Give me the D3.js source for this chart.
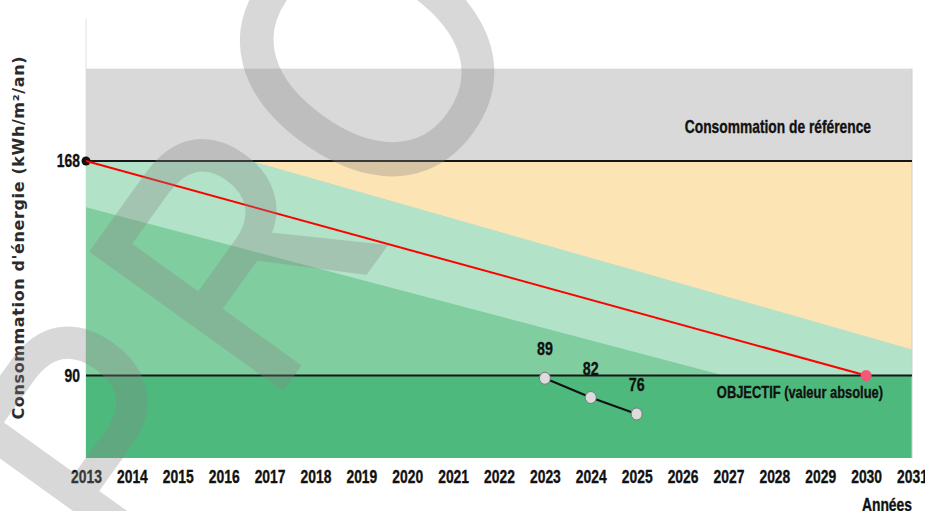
<!DOCTYPE html>
<html>
<head>
<meta charset="utf-8">
<script src="https://cdn.jsdelivr.net/npm/d3@7"></script>
<style>
  body { margin: 0; background: #fff; }
  svg { display: block; }
  .narrow { font-family: "Liberation Sans", Arial, sans-serif; font-weight: bold; fill: #111; stroke: #111; stroke-width: 0.35px; }
</style>
</head>
<body>
<div id="chart"></div>
<script>
// axis ticks
var tickYears = [2013, 2014, 2015, 2016, 2017, 2018, 2019, 2020, 2021, 2022,
                 2023, 2024, 2025, 2026, 2027, 2028, 2029, 2030, 2031];
var tickValues = [90, 168];

// reference levels
var refValue = 168;
var refTop = 201.6;
var targetValue = 90;
var floorValue = 60;

// trajectory from reference to objective
var trajYears = [2013, 2030];
var trajValues = [168, 90];

// tolerance bands (light and medium green)
var upperBandYears = [2013, 2016.6, 2031];
var upperBandValues = [168, 168, 99.5];
var lowerBandYears = [2013, 2026.9];
var lowerBandValues = [151.2, 90];

// measured consumption
var measuredYears = [2023, 2024, 2025];
var measuredValues = [89, 82, 76];

var svgWidth = 925;
var svgHeight = 511;
var squeeze = 0.75; // no narrow font installed, so squeeze Liberation Sans

var svg = d3.select("#chart")
  .append("svg")
  .attr("width", svgWidth)
  .attr("height", svgHeight);

var x = d3.scaleLinear().domain([2013, 2031]).range([86, 912]);
var y = d3.scaleLinear().domain([floorValue, refValue]).range([458, 161]);

var plot = svg.append("g");

// narrow bold label
function narrowText(g, tx, ty, txt, size, anchor) {
  return g.append("text")
    .attr("class", "narrow")
    .attr("transform", `translate(${tx}, ${ty}) scale(${squeeze}, 1)`)
    .attr("text-anchor", anchor)
    .attr("font-size", size)
    .text(txt);
}

// axis line on the left
plot.append("line")
  .attr("x1", x(2013)).attr("x2", x(2013))
  .attr("y1", 19).attr("y2", y(floorValue))
  .attr("stroke", "#e2e2e2").attr("stroke-width", 1);

// background bands
plot.append("rect")
  .attr("x", x(2013)).attr("width", x(2031) - x(2013))
  .attr("y", y(refTop)).attr("height", y(refValue) - y(refTop))
  .attr("fill", "#d9d9d9");

plot.append("rect")
  .attr("x", x(2013)).attr("width", x(2031) - x(2013))
  .attr("y", y(refValue)).attr("height", y(targetValue) - y(refValue))
  .attr("fill", "#fce4b4");

var band = d3.area()
  .x(d => x(d[0]))
  .y0(y(targetValue))
  .y1(d => y(d[1]));

plot.append("path")
  .datum(d3.zip(upperBandYears, upperBandValues))
  .attr("d", band)
  .attr("fill", "#b2e2c8");

plot.append("path")
  .datum(d3.zip(lowerBandYears, lowerBandValues))
  .attr("d", band)
  .attr("fill", "#80cea0");

plot.append("rect")
  .attr("x", x(2013)).attr("width", x(2031) - x(2013))
  .attr("y", y(targetValue)).attr("height", y(floorValue) - y(targetValue))
  .attr("fill", "#4eb97c");

// right border
plot.append("line")
  .attr("x1", x(2031)).attr("x2", x(2031))
  .attr("y1", y(refTop)).attr("y2", y(floorValue))
  .attr("stroke", "#cfcfcf").attr("stroke-width", 1);

// reference and objective lines
plot.selectAll(".hline")
  .data([refValue, targetValue])
  .enter()
  .append("line")
  .attr("x1", x(2013)).attr("x2", x(2031))
  .attr("y1", d => y(d)).attr("y2", d => y(d))
  .attr("stroke", "#161616").attr("stroke-width", 2);

// axes
var bottomAxis = d3.axisBottom(x)
  .tickValues(tickYears)
  .tickFormat(d3.format("d"))
  .tickSize(0)
  .tickPadding(12);

var xAxis = plot.append("g")
  .attr("transform", `translate(0, ${y(floorValue)})`)
  .call(bottomAxis);
xAxis.select(".domain").remove();
xAxis.selectAll("text")
  .attr("class", "narrow")
  .attr("font-size", 18.5)
  .attr("transform", `scale(${squeeze}, 1)`);

var leftAxis = d3.axisLeft(y)
  .tickValues(tickValues)
  .tickSize(0)
  .tickPadding(6);

var yAxis = plot.append("g")
  .attr("transform", `translate(${x(2013)}, 0)`)
  .call(leftAxis);
yAxis.select(".domain").remove();
yAxis.selectAll("text")
  .attr("class", "narrow")
  .attr("font-size", 18.5)
  .attr("x", -6 / squeeze)
  .attr("transform", `scale(${squeeze}, 1)`);

// trajectory
var trajData = d3.zip(trajYears, trajValues);
plot.append("circle")
  .attr("cx", x(trajYears[0])).attr("cy", y(trajValues[0]))
  .attr("r", 4.5).attr("fill", "#111");

plot.append("path")
  .datum(trajData)
  .attr("d", d3.line().x(d => x(d[0])).y(d => y(d[1])))
  .attr("fill", "none")
  .attr("stroke", "#ff0000")
  .attr("stroke-width", 2);

plot.append("circle")
  .attr("cx", x(trajYears[1])).attr("cy", y(trajValues[1]))
  .attr("r", 5.5).attr("fill", "#f2587a");

// measured values
var measured = d3.zip(measuredYears, measuredValues);
plot.append("path")
  .datum(measured)
  .attr("d", d3.line().x(d => x(d[0])).y(d => y(d[1])))
  .attr("fill", "none")
  .attr("stroke", "#111")
  .attr("stroke-width", 2);

plot.selectAll(".mdot")
  .data(measured)
  .enter()
  .append("ellipse")
  .attr("cx", d => x(d[0]))
  .attr("cy", d => y(d[1]))
  .attr("rx", 5.5).attr("ry", 6)
  .attr("fill", "#dcdcdc")
  .attr("stroke", "#7a7a7a")
  .attr("stroke-width", 1);

measured.forEach(function(d) {
  narrowText(plot, x(d[0]), y(d[1]) - 23, d[1], 19, "middle");
});

// band labels
narrowText(plot, 871, 133, "Consommation de référence", 18.4, "end");
narrowText(plot, 883, 398, "OBJECTIF (valeur absolue)", 17.2, "end");
narrowText(plot, 912, 511, "Années", 18.5, "end");

// y axis title
svg.append("text")
  .attr("transform", "translate(24, 238) rotate(-90)")
  .attr("text-anchor", "middle")
  .attr("font-family", "'DejaVu Sans', Verdana, sans-serif")
  .attr("font-weight", "bold")
  .attr("font-size", 16)
  .attr("fill", "#2b2b2b")
  .attr("textLength", 363)
  .attr("lengthAdjust", "spacing")
  .text("Consommation d'énergie (kWh/m²/an)");

// watermark
var mark = svg.append("g")
  .attr("opacity", 0.32)
  .style("pointer-events", "none")
  .append("text")
  .attr("transform", "translate(140, 586) rotate(-54.3) scale(0.86, 1)")
  .attr("font-family", "'Liberation Sans', Arial, sans-serif")
  .attr("font-size", 340)
  .attr("letter-spacing", 29)
  .attr("fill", "rgb(135,135,135)")
  .attr("stroke", "rgb(135,135,135)")
  .attr("stroke-width", 5);

mark.append("tspan").text("PR");
mark.append("tspan")
  .attr("dx", -16)
  .attr("font-size", 362)
  .text("OJET");
</script>
</body>
</html>
